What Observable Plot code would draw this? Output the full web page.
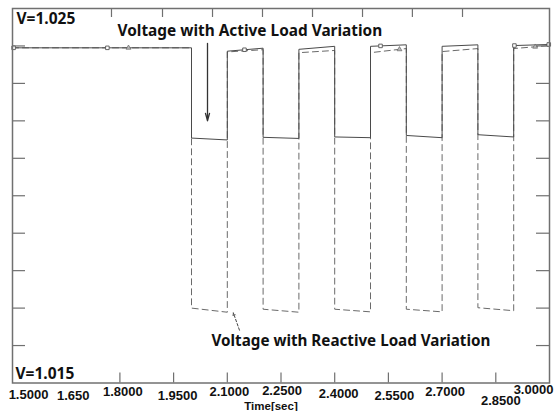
<!DOCTYPE html>
<html>
<head>
<meta charset="utf-8">
<script src="https://cdn.jsdelivr.net/npm/d3@7"></script>
<script src="https://cdn.jsdelivr.net/npm/@observablehq/plot@0.6"></script>
<style>
  html, body { margin: 0; padding: 0; background: #fff; }
  #chart svg { display: block; }
</style>
</head>
<body>
<div id="chart"></div>
<script>
// ---- Data ----
// Each segment runs from segStart to segEnd; the value goes from *Start to *End.
const segStart = [1.5, 2.0, 2.1, 2.2, 2.3, 2.4, 2.5, 2.6, 2.7, 2.8, 2.9];
const segEnd   = [2.0, 2.1, 2.2, 2.3, 2.4, 2.5, 2.6, 2.7, 2.8, 2.9, 3.0];
const activeStart   = [1.02395, 1.02154, 1.02386, 1.02156, 1.02391, 1.02157, 1.02399, 1.02161, 1.02399, 1.02163, 1.02401];
const activeEnd     = [1.02395, 1.02149, 1.02394, 1.02153, 1.02399, 1.02155, 1.02403, 1.02155, 1.02403, 1.02157, 1.02404];
const reactiveStart = [1.02395, 1.01700, 1.02384, 1.01697, 1.02382, 1.01697, 1.02382, 1.01697, 1.02385, 1.01701, 1.02393];
const reactiveEnd   = [1.02395, 1.01689, 1.02390, 1.01689, 1.02388, 1.01690, 1.02393, 1.01690, 1.02393, 1.01693, 1.02401];

// Marker times (plot symbols on the curves)
const activeMarkerTimes = [1.503, 1.765, 2.148, 2.528, 2.902, 2.998];
const reactiveMarkerTimes = [1.824, 2.581, 2.96];

// Axis ticks and labels
const xTickValues = [1.8, 1.95, 2.1, 2.25, 2.4, 2.55, 2.7, 2.85];
const xLabelValues = [1.5, 1.65, 1.8, 1.95, 2.1, 2.25, 2.4, 2.55, 2.7, 2.85, 3.0];
const xLabels = ["1.5000", "1.650", "1.8000", "1.9500", "2.1000", "2.2500", "2.4000", "2.5500", "2.7000", "2.8500", "3.0000"];
const topTickValues = [1.7765, 1.919, 2.0587, 2.1983, 2.338, 2.4777, 2.617, 2.757];
const yTickValues = [1.016, 1.017, 1.018, 1.019, 1.020, 1.021, 1.022, 1.023, 1.024];
const xTitle = "Time[sec]";

// Annotations (in data units)
const vTopLabel = {t: 1.5112, v: 1.02471, text: "V=1.025"};
const vBottomLabel = {t: 1.5084, v: 1.01525, text: "V=1.015"};
const activeLabel = {t: 1.7933, v: 1.02441, text: "Voltage with Active Load Variation"};
const reactiveLabel = {t: 2.0559, v: 1.01612, text: "Voltage with Reactive Load Variation"};
const activeArrow = {t1: 2.0447, v1: 1.02407, t2: 2.0447, v2: 1.02200};
const reactiveArrow = {t1: 2.134, v1: 1.01641, t2: 2.117, v2: 1.01687};

// ---- Styles (kept separate) ----
const labelDx = [16, 7, 3, 4, 2, 1, 4, 6, 3, 5, -16];
const labelDy = [11.5, 12.5, 8.5, 12.5, 8.5, 8, 10.5, 12.5, 8.5, 17.5, 6.5];
const font = "'Noto Sans', 'DejaVu Sans', sans-serif";
const tickFont = "'Liberation Sans', Arial, sans-serif";

// ---- Build series ----
function buildSeries(startVals, endVals, name) {
  const pts = [];
  for (let i = 0; i < segStart.length; i++) {
    pts.push({t: segStart[i], v: startVals[i], s: name});
    pts.push({t: segEnd[i], v: endVals[i], s: name});
  }
  return pts;
}
const active = buildSeries(activeStart, activeEnd, "active");
const reactive = buildSeries(reactiveStart, reactiveEnd, "reactive");

function valueAt(startVals, endVals, t) {
  for (let i = 0; i < segStart.length; i++) {
    if (t >= segStart[i] && t <= segEnd[i]) {
      const f = (t - segStart[i]) / (segEnd[i] - segStart[i]);
      return startVals[i] + f * (endVals[i] - startVals[i]);
    }
  }
  return startVals[startVals.length - 1];
}
const activeMarkers = activeMarkerTimes.map(t => ({t, v: valueAt(activeStart, activeEnd, t)}));
const reactiveMarkers = reactiveMarkerTimes.map(t => ({t, v: valueAt(reactiveStart, reactiveEnd, t)}));

const W = 560, H = 411;
const mL = 12, mR = 11, mT = 8, mB = 28.5;
const innerW = W - mL - mR, innerH = H - mT - mB;

const axisColor = "#707070";

const marks = [
  // ticks (inward)
  Plot.tickX(xTickValues, {x: d => d, stroke: axisColor, strokeWidth: 1.2, insetTop: innerH - 10}),
  Plot.tickX(topTickValues, {x: d => d, stroke: axisColor, strokeWidth: 1.2, insetBottom: innerH - 9}),
  Plot.tickY(yTickValues, {y: d => d, stroke: axisColor, strokeWidth: 1.2, insetRight: innerW - 13}),
  Plot.tickY(yTickValues, {y: d => d, stroke: axisColor, strokeWidth: 1.2, insetLeft: innerW - 13}),
  // curves
  Plot.line(reactive, {x: "t", y: "v", stroke: "#6a6a6a", strokeWidth: 1, strokeDasharray: "6,4"}),
  Plot.line(active, {x: "t", y: "v", stroke: "#4a4a4a", strokeWidth: 1}),
  Plot.dot(activeMarkers, {x: "t", y: "v", symbol: "square", r: 2, stroke: "#555", fill: "#fff", strokeWidth: 0.9}),
  Plot.dot(reactiveMarkers, {x: "t", y: "v", symbol: "triangle", r: 1.8, stroke: "#666", fill: "#bbb", strokeWidth: 0.7}),
  // frame
  Plot.frame({stroke: axisColor, strokeWidth: 1.5}),
  // arrows
  Plot.arrow([activeArrow], {x1: "t1", y1: "v1", x2: "t2", y2: "v2", stroke: "#333", strokeWidth: 1.3, headLength: 9, headAngle: 30}),
  Plot.arrow([reactiveArrow], {x1: "t1", y1: "v1", x2: "t2", y2: "v2", stroke: "#444", strokeWidth: 1, strokeDasharray: "2.5,2", headLength: 4, headAngle: 50}),
  // annotations
  Plot.text([vTopLabel, vBottomLabel], {x: "t", y: "v", text: "text", textAnchor: "start", lineAnchor: "middle", fontSize: 15.5, fontWeight: "bold", fill: "#111"}),
  Plot.text([activeLabel], {x: "t", y: "v", text: "text", textAnchor: "start", lineAnchor: "middle", fontSize: 15.4, fontWeight: "bold", fill: "#111"}),
  Plot.text([reactiveLabel], {x: "t", y: "v", text: "text", textAnchor: "start", lineAnchor: "middle", fontSize: 15.2, fontWeight: "bold", fill: "#111"}),
  // x tick labels with irregular placement
  ...xLabels.map((s, i) => Plot.text([s], {x: () => xLabelValues[i], frameAnchor: "bottom", text: d => d, dx: labelDx[i], dy: labelDy[i], lineAnchor: "middle", textAnchor: "middle", fontSize: 13, fontWeight: "bold", fontFamily: tickFont, fill: "#111"})),
  Plot.text([xTitle], {frameAnchor: "bottom", text: d => d, dx: -10, dy: 23, lineAnchor: "middle", fontSize: 11.5, fontWeight: "bold", fontFamily: tickFont, fill: "#111"})
];

const chart = Plot.plot({
  width: W, height: H,
  marginLeft: mL, marginRight: mR, marginTop: mT, marginBottom: mB,
  x: {domain: [1.5, 3.0], axis: null},
  y: {domain: [1.015, 1.025], axis: null},
  style: {fontFamily: font, background: "#fff", overflow: "visible"},
  marks
});
document.getElementById("chart").appendChild(chart);
</script>
</body>
</html>
